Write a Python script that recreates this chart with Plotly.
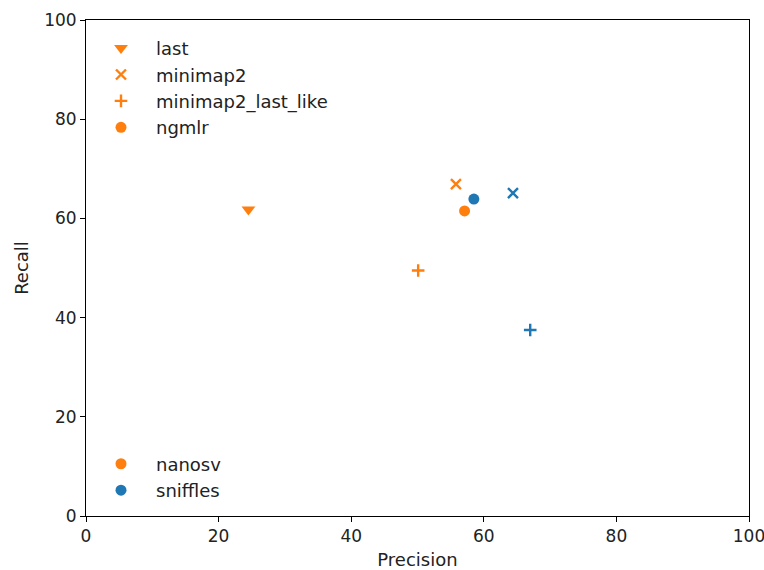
import plotly.graph_objects as go

# Data
methods = ["last", "minimap2", "minimap2_last_like", "ngmlr"]
symbols = ["triangle-down", "x-thin", "cross-thin", "circle"]
nanosv_precision = [24.5, 55.8, 50.1, 57.1]
nanosv_recall = [61.8, 66.9, 49.5, 61.5]
sniffles_methods = ["minimap2", "minimap2_last_like", "ngmlr"]
sniffles_symbols = ["x-thin", "cross-thin", "circle"]
sniffles_precision = [64.4, 67.0, 58.5]
sniffles_recall = [65.1, 37.5, 63.9]
callers = ["nanosv", "sniffles"]
x_ticks = [0, 20, 40, 60, 80, 100]
y_ticks = [0, 20, 40, 60, 80, 100]

ORANGE = "#ff7f0e"
BLUE = "#1f77b4"
sizes = {"triangle-down": 12, "x-thin": 10, "cross-thin": 9, "circle": 11}

fig = go.Figure()

for m, s, px, ry in zip(methods, symbols, nanosv_precision, nanosv_recall):
    fig.add_trace(go.Scatter(
        x=[px], y=[ry], mode="markers", name=m, legend="legend",
        marker=dict(symbol=s, size=sizes[s], color=ORANGE,
                    line=dict(color=ORANGE, width=2.4 if "thin" in s else 0)),
    ))

for m, s, px, ry in zip(sniffles_methods, sniffles_symbols, sniffles_precision, sniffles_recall):
    fig.add_trace(go.Scatter(
        x=[px], y=[ry], mode="markers", name=m, showlegend=False,
        marker=dict(symbol=s, size=sizes[s], color=BLUE,
                    line=dict(color=BLUE, width=2.4 if "thin" in s else 0)),
    ))

for c, col in zip(callers, [ORANGE, BLUE]):
    fig.add_trace(go.Scatter(
        x=[None], y=[None], mode="markers", name=c, legend="legend2",
        marker=dict(symbol="circle", size=11, color=col),
    ))

axis_common = dict(
    showline=True, linecolor="black", linewidth=1, mirror=True,
    ticks="outside", ticklen=5, tickwidth=1, tickcolor="black",
    showgrid=False, zeroline=False, automargin=False,
    ticklabeloverflow="allow",
    tickfont=dict(family="DejaVu Sans", size=17, color="#222222"),
)

fig.update_layout(
    width=764, height=570,
    margin=dict(l=86, r=15, t=20, b=54),
    paper_bgcolor="white", plot_bgcolor="white",
    font=dict(family="DejaVu Sans", size=18, color="#222222"),
    xaxis=dict(range=[0, 100], tickvals=x_ticks,
               title=dict(text="Precision", standoff=9, font=dict(size=18)),
               **axis_common),
    yaxis=dict(range=[0, 100], tickvals=y_ticks,
               title=dict(text="Recall", standoff=10, font=dict(size=18)),
               **axis_common),
    legend=dict(x=0.0, y=0.98, xanchor="left", yanchor="top",
                bgcolor="rgba(0,0,0,0)", itemwidth=60,
                font=dict(family="DejaVu Sans", size=18, color="#222222")),
    legend2=dict(x=0.0, y=0.015, xanchor="left", yanchor="bottom",
                 bgcolor="rgba(0,0,0,0)", itemwidth=60,
                 font=dict(family="DejaVu Sans", size=18, color="#222222")),
)

fig.write_html("out.html")
